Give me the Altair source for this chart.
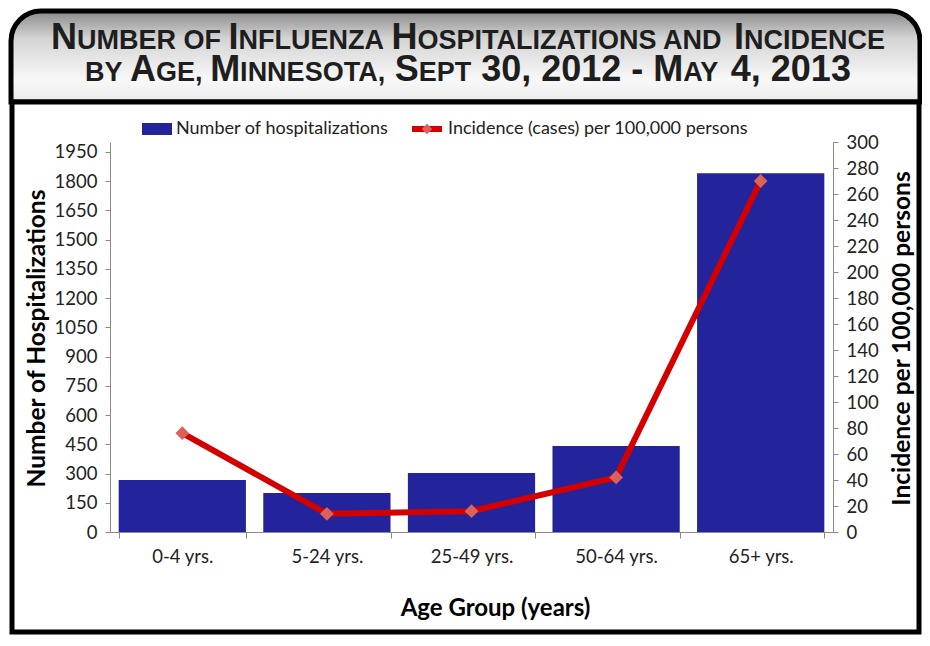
import altair as alt
import pandas as pd

# ---------------- data ----------------
ages = ["0-4 yrs.", "5-24 yrs.", "25-49 yrs.", "50-64 yrs.", "65+ yrs."]
hospitalizations = [267, 200, 303, 441, 1840]
incidence = [76, 14, 16, 42, 270]

left_ticks = list(range(0, 1951, 150))
right_ticks = list(range(0, 301, 20))

df = pd.DataFrame({"age": ages, "hosp": hospitalizations, "inc": incidence})

# ---------------- layout ----------------
W, H = 723, 390
PAD = {"left": 102, "top": 134, "right": 89, "bottom": 103}
OX, OY = 8 + PAD["left"], 8 + PAD["top"]   # page position of plot origin


def px(X):
    return X - OX


def py(Y):
    return Y - OY


FONT = "Lato"
TFONT = "Liberation Sans"
BLUE = "#23239B"
RED = "#D40000"
DIAMOND = "#DA6259"
one = pd.DataFrame({"a": [0]})

layers = []

# frame: title box with gradient and rounded top corners
grad = alt.LinearGradient(
    gradient="linear",
    stops=[alt.GradientStop(color="#8a8a8a", offset=0),
           alt.GradientStop(color="#d4d4d4", offset=0.3),
           alt.GradientStop(color="#f8f8f8", offset=0.75),
           alt.GradientStop(color="#ececec", offset=1)],
    x1=0, x2=0, y1=0, y2=1)
layers.append(alt.Chart(one).mark_rect(
    fill=grad, stroke="black", strokeWidth=5,
    cornerRadiusTopLeft=30, cornerRadiusTopRight=30).encode(
    x=alt.value(px(11)), x2=alt.value(px(920)),
    y=alt.value(py(11)), y2=alt.value(py(102))))
layers.append(alt.Chart(one).mark_rect(
    fill="white", stroke="black", strokeWidth=5).encode(
    x=alt.value(px(12)), x2=alt.value(px(919)),
    y=alt.value(py(102)), y2=alt.value(py(632))))

# title in small caps, laid out with Arial-Bold-compatible metrics
MET = {" ": 278, ",": 278, "-": 333, ".": 278,
       "A": 722, "B": 722, "C": 722, "D": 722, "E": 667, "F": 611, "G": 778,
       "H": 722, "I": 278, "L": 611, "M": 833, "N": 722, "O": 778, "P": 667,
       "R": 722, "S": 667, "T": 611, "U": 722, "Y": 667, "Z": 611}
for d in "0123456789":
    MET[d] = 556


def tw(s, size):
    return sum(MET.get(c, 600) for c in s) * size / 1000.0


BIG, SMALL = 36, 27
title_lines = [
    ([("N", BIG), ("UMBER OF ", SMALL), ("I", BIG), ("NFLUENZA ", SMALL),
      ("H", BIG), ("OSPITALIZATIONS AND ", SMALL), ("I", BIG), ("NCIDENCE", SMALL)], 49),
    ([("BY ", SMALL), ("A", BIG), ("GE, ", SMALL), ("M", BIG), ("INNESOTA, ", SMALL),
      ("S", BIG), ("EPT", SMALL), (" 30, 2012 - ", BIG), ("M", BIG), ("AY", SMALL),
      (" 4, 2013", BIG)], 81),
]
CENTER_X = 468
for segs, base in title_lines:
    total = sum(tw(s, z) for s, z in segs)
    x = CENTER_X - total / 2
    for s, z in segs:
        lead = len(s) - len(s.lstrip(" "))
        txt = s.strip(" ")
        layers.append(alt.Chart(one).mark_text(
            align="left", baseline="alphabetic", font=TFONT, fontWeight="bold",
            fontSize=z, color="#1e1e1e").encode(
            x=alt.value(px(x + tw(" " * lead, z))), y=alt.value(py(base)),
            text=alt.value(txt)))
        x += tw(s, z)

# manual legend
layers.append(alt.Chart(one).mark_rect(color=BLUE).encode(
    x=alt.value(px(142)), x2=alt.value(px(172)),
    y=alt.value(py(123)), y2=alt.value(py(135))))
layers.append(alt.Chart(one).mark_text(
    align="left", baseline="middle", font=FONT, fontSize=18, color="#222").encode(
    x=alt.value(px(176)), y=alt.value(py(129)),
    text=alt.value("Number of hospitalizations")))
layers.append(alt.Chart(one).mark_rule(color=RED, strokeWidth=6).encode(
    x=alt.value(px(412)), x2=alt.value(px(442)), y=alt.value(py(129))))
layers.append(alt.Chart(one).mark_point(
    shape="diamond", filled=True, size=110, color=DIAMOND, opacity=1).encode(
    x=alt.value(px(427)), y=alt.value(py(129))))
layers.append(alt.Chart(one).mark_text(
    align="left", baseline="middle", font=FONT, fontSize=18, color="#222").encode(
    x=alt.value(px(448)), y=alt.value(py(129)),
    text=alt.value("Incidence (cases) per 100,000 persons")))

# ---------------- data marks ----------------
xenc = alt.X(
    "age:N", sort=ages,
    scale=alt.Scale(paddingInner=0.12, paddingOuter=0.06),
    axis=alt.Axis(
        title="Age Group (years)", labelAngle=0, tickBand="extent",
        labelFont=FONT, labelFontSize=18.5, labelColor="#222", labelPadding=9,
        tickSize=6, tickColor="#8a8a8a", domainColor="#8a8a8a",
        titleFont=FONT, titleFontSize=24, titleFontWeight="bold", titleColor="black",
        titleX=385, titleY=83, titleBaseline="alphabetic", zindex=1))

bars = alt.Chart(df).mark_bar(color=BLUE).encode(
    x=xenc,
    y=alt.Y("hosp:Q", scale=alt.Scale(domain=[0, 2000], nice=False),
            axis=alt.Axis(
                orient="left", values=left_ticks, grid=False, format="d",
                labelOverlap=False,
                labelFont=FONT, labelFontSize=18.5, labelColor="#222", labelPadding=8,
                tickSize=5, tickColor="#8a8a8a", domainColor="#8a8a8a",
                title="Number of Hospitalizations", titleFont=FONT, titleFontSize=24.5,
                titleFontWeight="bold", titleColor="black", titleAngle=270,
                titleX=-73, titleY=196, titleBaseline="middle", zindex=1)))

right_axis = alt.Axis(
    orient="right", values=right_ticks, grid=False, format="d",
    labelOverlap=False,
    labelFont=FONT, labelFontSize=18.5, labelColor="#222", labelPadding=8,
    tickSize=5, tickColor="#8a8a8a", domainColor="#8a8a8a",
    title="Incidence per 100,000 persons", titleFont=FONT, titleFontSize=24.5,
    titleFontWeight="bold", titleColor="black", titleAngle=270,
    titleX=69, titleY=196, titleBaseline="middle", zindex=1)
inc_scale = alt.Scale(domain=[0, 300], nice=False)

line = alt.Chart(df).mark_line(color=RED, strokeWidth=6).encode(
    x=alt.X("age:N", sort=ages),
    y=alt.Y("inc:Q", scale=inc_scale, axis=right_axis))
pts = alt.Chart(df).mark_point(
    shape="diamond", filled=True, size=190, color=DIAMOND, opacity=1).encode(
    x=alt.X("age:N", sort=ages),
    y=alt.Y("inc:Q", scale=inc_scale, axis=right_axis))

inc_layer = alt.layer(line, pts)

chart = alt.layer(*layers, bars, inc_layer).resolve_scale(
    y="independent").properties(
    width=W, height=H, padding=PAD, autosize=alt.AutoSizeParams(type="none"),
    background="white").configure_view(stroke=None)

chart.save("out.html", embed_options={"renderer": "svg", "actions": False})
